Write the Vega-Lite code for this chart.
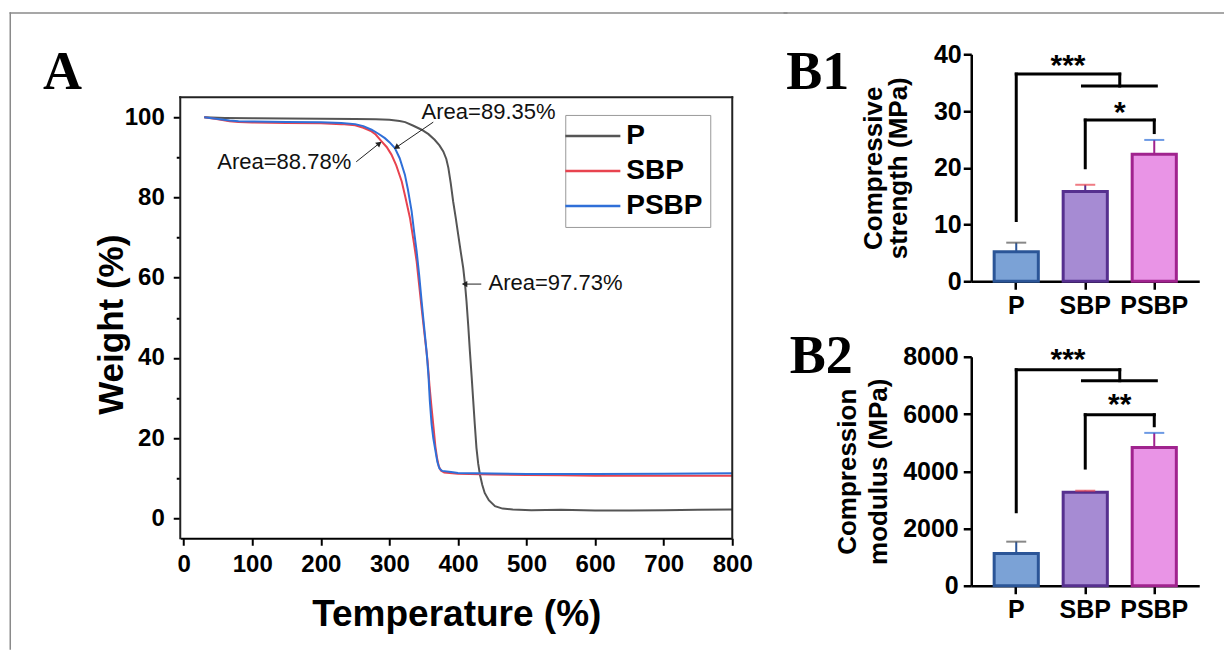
{
  "$schema": "https://vega.github.io/schema/vega-lite/v6.json",
  "background": "white",
  "padding": {"left": 8.25, "top": 11.25, "right": 0, "bottom": 0},
  "spacing": -6,
  "config": {
    "font": "Liberation Sans",
    "view": {"stroke": null},
    "axis": {"labelFont": "Liberation Sans", "labelFontWeight": "bold", "titleFont": "Liberation Sans", "titleFontWeight": "bold", "labelColor": "black", "titleColor": "black", "domainColor": "black", "tickColor": "black", "grid": false, "labelOverlap": false, "labelFlush": false},
    "title": {"font": "Liberation Serif", "fontWeight": "bold", "fontSize": 54, "color": "black", "anchor": "start", "frame": "bounds", "offset": 0}
  },
  "datasets": {
    "tga": [
      {"s":"P","T":30,"W":100},{"s":"P","T":60,"W":99.85},{"s":"P","T":100,"W":99.75},{"s":"P","T":150,"W":99.7},{"s":"P","T":200,"W":99.65},{"s":"P","T":250,"W":99.6},{"s":"P","T":280,"W":99.5},{"s":"P","T":300,"W":99.4},{"s":"P","T":315,"W":99.1},{"s":"P","T":323,"W":98.8},{"s":"P","T":335,"W":97.9},{"s":"P","T":347,"W":96.9},{"s":"P","T":357,"W":95.8},{"s":"P","T":366,"W":94.4},{"s":"P","T":373,"W":93},{"s":"P","T":378.6,"W":91.5},{"s":"P","T":383,"W":89.6},{"s":"P","T":386,"W":87.4},{"s":"P","T":389.5,"W":83.5},{"s":"P","T":393,"W":79},{"s":"P","T":396.7,"W":75},{"s":"P","T":400.4,"W":70.7},{"s":"P","T":404,"W":66.5},{"s":"P","T":407.7,"W":62.4},{"s":"P","T":410.5,"W":58},{"s":"P","T":412.5,"W":54},{"s":"P","T":415,"W":48},{"s":"P","T":417.4,"W":41.6},{"s":"P","T":420,"W":35.2},{"s":"P","T":422.3,"W":29.2},{"s":"P","T":424.5,"W":23.5},{"s":"P","T":427,"W":17.5},{"s":"P","T":429.5,"W":13.6},{"s":"P","T":432,"W":10.9},{"s":"P","T":435.5,"W":8.3},{"s":"P","T":439,"W":6.3},{"s":"P","T":445,"W":4.5},{"s":"P","T":454,"W":3},{"s":"P","T":465,"W":2.4},{"s":"P","T":480,"W":2.2},{"s":"P","T":507,"W":2},{"s":"P","T":550,"W":2.1},{"s":"P","T":600,"W":1.9},{"s":"P","T":650,"W":1.9},{"s":"P","T":700,"W":2},{"s":"P","T":750,"W":2.1},{"s":"P","T":800,"W":2.2},
      {"s":"SBP","T":30,"W":100},{"s":"SBP","T":50,"W":99.5},{"s":"SBP","T":67,"W":99},{"s":"SBP","T":80,"W":98.8},{"s":"SBP","T":100,"W":98.7},{"s":"SBP","T":150,"W":98.6},{"s":"SBP","T":200,"W":98.5},{"s":"SBP","T":230,"W":98.3},{"s":"SBP","T":250,"W":98},{"s":"SBP","T":262,"W":97.4},{"s":"SBP","T":274,"W":96.5},{"s":"SBP","T":280,"W":95.7},{"s":"SBP","T":288.6,"W":94},{"s":"SBP","T":296,"W":92.6},{"s":"SBP","T":303,"W":90.7},{"s":"SBP","T":310,"W":88},{"s":"SBP","T":318,"W":84},{"s":"SBP","T":323,"W":80.3},{"s":"SBP","T":330,"W":74.9},{"s":"SBP","T":335,"W":69.5},{"s":"SBP","T":339.7,"W":64.1},{"s":"SBP","T":343.5,"W":58},{"s":"SBP","T":347,"W":52.4},{"s":"SBP","T":351.5,"W":45.5},{"s":"SBP","T":355.7,"W":39.2},{"s":"SBP","T":358.5,"W":33},{"s":"SBP","T":361.5,"W":27.5},{"s":"SBP","T":364.9,"W":21.7},{"s":"SBP","T":367,"W":18},{"s":"SBP","T":369.5,"W":15},{"s":"SBP","T":372,"W":13},{"s":"SBP","T":375,"W":11.9},{"s":"SBP","T":380,"W":11.4},{"s":"SBP","T":400,"W":11.1},{"s":"SBP","T":450,"W":10.9},{"s":"SBP","T":500,"W":10.8},{"s":"SBP","T":550,"W":10.7},{"s":"SBP","T":600,"W":10.6},{"s":"SBP","T":700,"W":10.6},{"s":"SBP","T":800,"W":10.6},
      {"s":"PSBP","T":30,"W":100},{"s":"PSBP","T":50,"W":99.6},{"s":"PSBP","T":67,"W":99.2},{"s":"PSBP","T":80,"W":99},{"s":"PSBP","T":100,"W":98.95},{"s":"PSBP","T":150,"W":98.85},{"s":"PSBP","T":200,"W":98.75},{"s":"PSBP","T":230,"W":98.6},{"s":"PSBP","T":250,"W":98.3},{"s":"PSBP","T":262,"W":97.8},{"s":"PSBP","T":274,"W":96.9},{"s":"PSBP","T":284,"W":95.9},{"s":"PSBP","T":293.4,"W":94.8},{"s":"PSBP","T":300,"W":93.8},{"s":"PSBP","T":308,"W":92.3},{"s":"PSBP","T":315,"W":89.8},{"s":"PSBP","T":322.6,"W":85.7},{"s":"PSBP","T":327,"W":82},{"s":"PSBP","T":332.4,"W":76.6},{"s":"PSBP","T":336,"W":71.5},{"s":"PSBP","T":339.7,"W":66.6},{"s":"PSBP","T":343.5,"W":60.5},{"s":"PSBP","T":347,"W":54.1},{"s":"PSBP","T":350.5,"W":48},{"s":"PSBP","T":354.2,"W":41.6},{"s":"PSBP","T":357,"W":35.5},{"s":"PSBP","T":359,"W":29.2},{"s":"PSBP","T":361.5,"W":23.5},{"s":"PSBP","T":364,"W":20},{"s":"PSBP","T":367,"W":17},{"s":"PSBP","T":370,"W":14},{"s":"PSBP","T":373,"W":12.4},{"s":"PSBP","T":377,"W":11.8},{"s":"PSBP","T":390,"W":11.5},{"s":"PSBP","T":400,"W":11.3},{"s":"PSBP","T":450,"W":11.15},{"s":"PSBP","T":500,"W":11.05},{"s":"PSBP","T":550,"W":11},{"s":"PSBP","T":600,"W":11.05},{"s":"PSBP","T":700,"W":11.1},{"s":"PSBP","T":800,"W":11.2}
    ],
    "ann": [
      {"T":347,"W":101.2,"label":"Area=89.35%"},
      {"T":49,"W":88.9,"label":"Area=88.78%"},
      {"T":444.6,"W":58.65,"label":"Area=97.73%"}
    ],
    "arrows": [
      {"id":"a1","T":364,"W":98.8,"T2":310,"W2":92.5},
      {"id":"a2","T":251.6,"W":88.9,"T2":285.3,"W2":93.5},
      {"id":"a3","T":434,"W":58.4,"T2":409.6,"W2":58.4}
    ],
    "frame": [
      {"x":-5,"x2":800,"y":105,"y2":105},
      {"x":800,"x2":800,"y":-5,"y2":105},
      {"x":-5,"x2":-5,"y":-5,"y2":105}
    ],
    "borderA": [
      {"x":-252.9,"x2":879.5,"y":126.03,"y2":126.03},
      {"x":-252.9,"x2":-252.9,"y":126.03,"y2":-32.61}
    ],
    "borderB": [{"x":-3.3615,"x2":3.0,"y":47.29,"y2":47.29}],
    "b1": [{"g":"P","mean":5.2,"upper":6.8},{"g":"SBP","mean":15.8,"upper":17.0},{"g":"PSBP","mean":22.4,"upper":24.9}],
    "b2": [{"g":"P","mean":1130,"upper":1540},{"g":"SBP","mean":3270,"upper":3320},{"g":"PSBP","mean":4830,"upper":5340}],
    "b1br": [
      {"x":0,"x2":0,"y":10.7,"y2":36.5},{"x":0,"x2":1.5,"y":36.5,"y2":36.5},{"x":1.5,"x2":1.5,"y":36.5,"y2":34.4},{"x":0.96,"x2":2.03,"y":34.4,"y2":34.4},
      {"x":1,"x2":1,"y":20,"y2":28.4},{"x":1,"x2":2,"y":28.4,"y2":28.4},{"x":2,"x2":2,"y":28.4,"y2":26.2}
    ],
    "b1st": [{"x":0.75,"y":36.4,"s":"***"},{"x":1.5,"y":28.1,"s":"*"}],
    "b2br": [
      {"x":0,"x2":0,"y":2585,"y2":7546},{"x":0,"x2":1.5,"y":7546,"y2":7546},{"x":1.5,"x2":1.5,"y":7546,"y2":7162},{"x":0.96,"x2":2.03,"y":7162,"y2":7162},
      {"x":1,"x2":1,"y":4111,"y2":5974},{"x":1,"x2":2,"y":5974,"y2":5974},{"x":2,"x2":2,"y":5974,"y2":5590}
    ],
    "b2st": [{"x":0.75,"y":7557,"s":"***"},{"x":1.5,"y":5985,"s":"**"}]
  },
  "hconcat": [
    {
      "title": {"text": "A", "dx": 33.75, "dy": 91.7},
      "width": 552,
      "height": 484,
      "layer": [
        {
          "data": {"name": "tga"},
          "mark": {"type": "line", "strokeWidth": 2, "clip": true},
          "encoding": {
            "x": {"field": "T", "type": "quantitative", "scale": {"domain": [-5, 800], "nice": false, "zero": false},
              "axis": {"title": "Temperature (%)", "values": [0,50,100,150,200,250,300,350,400,450,500,550,600,650,700,750,800], "labelExpr": "datum.value % 100 === 0 ? datum.label : ''", "tickSize": {"condition": {"test": "datum.value % 100 === 0", "value": 7}, "value": 4}, "tickWidth": 2, "domainWidth": 2, "labelFontSize": 24, "titleFontSize": 37, "labelPadding": 7, "titlePadding": 20}},
            "y": {"field": "W", "type": "quantitative", "scale": {"domain": [-5, 115.73], "nice": false, "zero": false},
              "axis": {"title": "Weight (%)", "domain": false, "values": [0,10,20,30,40,50,60,70,80,90,100], "labelExpr": "datum.value % 20 === 0 ? datum.label : ''", "tickSize": {"condition": {"test": "datum.value % 20 === 0", "value": 7}, "value": 4}, "tickWidth": 2, "labelFontSize": 24, "titleFontSize": 35, "labelPadding": 9, "titlePadding": -5, "titleY": 270}},
            "color": {"field": "s", "type": "nominal", "scale": {"domain": ["P","SBP","PSBP"], "range": ["#555555","#e8434f","#2f6fd8"]},
              "legend": {"orient": "none", "legendX": 385, "legendY": 60.7, "title": null, "symbolType": "M-1.9,0H3.1", "symbolSize": 484, "symbolStrokeWidth": 2.5, "labelFontSize": 28, "labelFontWeight": "bold", "labelFont": "Liberation Sans", "labelColor": "black", "strokeColor": "#999999", "fillColor": "white", "padding": 7, "rowPadding": 7, "labelOffset": 26}}
          }
        },
        {
          "data": {"name": "frame"},
          "mark": {"type": "rule", "strokeWidth": 2, "color": "#222222", "strokeCap": "square"},
          "encoding": {"x": {"field": "x", "type": "quantitative", "scale": {"domain": [-5, 800]}}, "y": {"field": "y", "type": "quantitative", "scale": {"domain": [-5, 115.73]}}, "x2": {"field": "x2"}, "y2": {"field": "y2"}}
        },
        {
          "data": {"name": "borderA"},
          "mark": {"type": "rule", "strokeWidth": 1.5, "color": "#8a8a8a", "strokeCap": "square"},
          "encoding": {"x": {"field": "x", "type": "quantitative", "scale": {"domain": [-5, 800]}}, "y": {"field": "y", "type": "quantitative", "scale": {"domain": [-5, 115.73]}}, "x2": {"field": "x2"}, "y2": {"field": "y2"}}
        },
        {
          "data": {"name": "ann"},
          "mark": {"type": "text", "align": "left", "baseline": "middle", "fontSize": 22, "font": "Liberation Sans", "color": "#111111"},
          "encoding": {"x": {"field": "T", "type": "quantitative", "scale": {"domain": [-5, 800]}}, "y": {"field": "W", "type": "quantitative", "scale": {"domain": [-5, 115.73]}}, "text": {"field": "label"}}
        },
        {
          "data": {"name": "arrows"},
          "mark": {"type": "rule", "strokeWidth": 1, "color": "#222222"},
          "encoding": {"x": {"field": "T", "type": "quantitative", "scale": {"domain": [-5, 800]}}, "y": {"field": "W", "type": "quantitative", "scale": {"domain": [-5, 115.73]}}, "x2": {"field": "T2"}, "y2": {"field": "W2"}}
        },
        {
          "data": {"name": "arrows"},
          "transform": [{"filter": "datum.id === 'a1'"}],
          "mark": {"type": "point", "shape": "triangle-right", "angle": 146, "filled": true, "size": 40, "color": "#222222", "opacity": 1},
          "encoding": {"x": {"field": "T2", "type": "quantitative", "scale": {"domain": [-5, 800]}}, "y": {"field": "W2", "type": "quantitative", "scale": {"domain": [-5, 115.73]}}}
        },
        {
          "data": {"name": "arrows"},
          "transform": [{"filter": "datum.id === 'a2'"}],
          "mark": {"type": "point", "shape": "triangle-right", "angle": 321, "filled": true, "size": 40, "color": "#222222", "opacity": 1},
          "encoding": {"x": {"field": "T2", "type": "quantitative", "scale": {"domain": [-5, 800]}}, "y": {"field": "W2", "type": "quantitative", "scale": {"domain": [-5, 115.73]}}}
        },
        {
          "data": {"name": "arrows"},
          "transform": [{"filter": "datum.id === 'a3'"}],
          "mark": {"type": "point", "shape": "triangle-left", "filled": true, "size": 40, "color": "#222222", "opacity": 1},
          "encoding": {"x": {"field": "T2", "type": "quantitative", "scale": {"domain": [-5, 800]}}, "y": {"field": "W2", "type": "quantitative", "scale": {"domain": [-5, 115.73]}}}
        }
      ]
    },
    {
      "spacing": 11.5,
      "vconcat": [
        {
          "title": {"text": "B1", "dx": 3, "dy": 92.5},
          "width": 228,
          "height": 227,
          "layer": [
            {
              "data": {"name": "b1"},
              "encoding": {
                "x": {"field": "g", "type": "nominal", "sort": ["P","SBP","PSBP"], "scale": {"paddingInner": 0.36, "paddingOuter": 0.332},
                  "axis": {"title": null, "labelAngle": 0, "labelFontSize": 25, "tickSize": 8, "tickWidth": 2.5, "domainWidth": 2.5, "labelPadding": 4}}
              },
              "layer": [
                {
                  "mark": {"type": "bar", "strokeWidth": 3},
                  "encoding": {
                    "y": {"field": "mean", "type": "quantitative", "scale": {"domain": [0, 40], "nice": false},
                      "axis": {"title": ["Compressive", "strength (MPa)"], "values": [0,10,20,30,40], "labelFontSize": 25, "titleFontSize": 26, "titleLineHeight": 25, "tickSize": 8, "tickWidth": 2.5, "domainWidth": 2.5, "labelPadding": 2, "titlePadding": 22}},
                    "fill": {"field": "g", "type": "nominal", "scale": {"domain": ["P","SBP","PSBP"], "range": ["#7ba2d6","#a68bd3","#e994e6"]}, "legend": null},
                    "stroke": {"field": "g", "type": "nominal", "scale": {"domain": ["P","SBP","PSBP"], "range": ["#2b5597","#56308f","#a0238e"]}, "legend": null}
                  }
                },
                {
                  "mark": {"type": "rule", "strokeWidth": 2},
                  "encoding": {
                    "y": {"field": "mean", "type": "quantitative", "scale": {"domain": [0, 40]}},
                    "y2": {"field": "upper"},
                    "stroke": {"field": "g", "type": "nominal", "legend": null}
                  }
                },
                {
                  "mark": {"type": "tick", "thickness": 2, "size": 20},
                  "encoding": {
                    "y": {"field": "upper", "type": "quantitative", "scale": {"domain": [0, 40]}},
                    "color": {"field": "g", "type": "nominal", "scale": {"domain": ["P","SBP","PSBP"], "range": ["#2b5597","#56308f","#a0238e"]}, "legend": null}
                  }
                }
              ]
            },
            {
              "layer": [
                {
                  "data": {"name": "b1br"},
                  "mark": {"type": "rule", "strokeWidth": 3, "color": "black", "strokeCap": "square"},
                  "encoding": {
                    "x": {"field": "x", "type": "quantitative", "scale": {"domain": [-0.652, 2.652], "nice": false, "zero": false}, "axis": null},
                    "x2": {"field": "x2"},
                    "y": {"field": "y", "type": "quantitative", "scale": {"domain": [0, 40]}},
                    "y2": {"field": "y2"}
                  }
                },
                {
                  "data": {"name": "borderB"},
                  "mark": {"type": "rule", "strokeWidth": 1.5, "color": "#8a8a8a", "strokeCap": "square"},
                  "encoding": {
                    "x": {"field": "x", "type": "quantitative", "axis": null},
                    "x2": {"field": "x2"},
                    "y": {"field": "y", "type": "quantitative", "scale": {"domain": [0, 40]}},
                    "y2": {"field": "y2"}
                  }
                },
                {
                  "data": {"name": "b1st"},
                  "mark": {"type": "text", "fontSize": 30, "fontWeight": "bold", "font": "Liberation Sans", "align": "center", "baseline": "alphabetic", "color": "black"},
                  "encoding": {
                    "x": {"field": "x", "type": "quantitative", "axis": null},
                    "y": {"field": "y", "type": "quantitative", "scale": {"domain": [0, 40]}},
                    "text": {"field": "s"}
                  }
                }
              ]
            }
          ],
          "resolve": {"scale": {"x": "independent"}}
        },
        {
          "title": {"text": "B2", "dx": -45, "dy": 43},
          "width": 228,
          "height": 229,
          "layer": [
            {
              "data": {"name": "b2"},
              "encoding": {
                "x": {"field": "g", "type": "nominal", "sort": ["P","SBP","PSBP"], "scale": {"paddingInner": 0.36, "paddingOuter": 0.332},
                  "axis": {"title": null, "labelAngle": 0, "labelFontSize": 25, "tickSize": 8, "tickWidth": 2.5, "domainWidth": 2.5, "labelPadding": 4}}
              },
              "layer": [
                {
                  "mark": {"type": "bar", "strokeWidth": 3},
                  "encoding": {
                    "y": {"field": "mean", "type": "quantitative", "scale": {"domain": [0, 8000], "nice": false},
                      "axis": {"title": ["Compression", "modulus (MPa)"], "values": [0,2000,4000,6000,8000], "format": "d", "labelFontSize": 25, "titleFontSize": 26, "titleLineHeight": 31, "tickSize": 8, "tickWidth": 2.5, "domainWidth": 2.5, "labelPadding": 5, "titlePadding": 11}},
                    "fill": {"field": "g", "type": "nominal", "scale": {"domain": ["P","SBP","PSBP"], "range": ["#7ba2d6","#a68bd3","#e994e6"]}, "legend": null},
                    "stroke": {"field": "g", "type": "nominal", "scale": {"domain": ["P","SBP","PSBP"], "range": ["#2b5597","#56308f","#a0238e"]}, "legend": null}
                  }
                },
                {
                  "mark": {"type": "rule", "strokeWidth": 2},
                  "encoding": {
                    "y": {"field": "mean", "type": "quantitative", "scale": {"domain": [0, 8000]}},
                    "y2": {"field": "upper"},
                    "stroke": {"field": "g", "type": "nominal", "legend": null}
                  }
                },
                {
                  "mark": {"type": "tick", "thickness": 2, "size": 20},
                  "encoding": {
                    "y": {"field": "upper", "type": "quantitative", "scale": {"domain": [0, 8000]}},
                    "color": {"field": "g", "type": "nominal", "scale": {"domain": ["P","SBP","PSBP"], "range": ["#2b5597","#56308f","#a0238e"]}, "legend": null}
                  }
                }
              ]
            },
            {
              "layer": [
                {
                  "data": {"name": "b2br"},
                  "mark": {"type": "rule", "strokeWidth": 3, "color": "black", "strokeCap": "square"},
                  "encoding": {
                    "x": {"field": "x", "type": "quantitative", "scale": {"domain": [-0.652, 2.652], "nice": false, "zero": false}, "axis": null},
                    "x2": {"field": "x2"},
                    "y": {"field": "y", "type": "quantitative", "scale": {"domain": [0, 8000]}},
                    "y2": {"field": "y2"}
                  }
                },
                {
                  "data": {"name": "b2st"},
                  "mark": {"type": "text", "fontSize": 30, "fontWeight": "bold", "font": "Liberation Sans", "align": "center", "baseline": "alphabetic", "color": "black"},
                  "encoding": {
                    "x": {"field": "x", "type": "quantitative", "axis": null},
                    "y": {"field": "y", "type": "quantitative", "scale": {"domain": [0, 8000]}},
                    "text": {"field": "s"}
                  }
                }
              ]
            }
          ],
          "resolve": {"scale": {"x": "independent"}}
        }
      ]
    }
  ]
}
